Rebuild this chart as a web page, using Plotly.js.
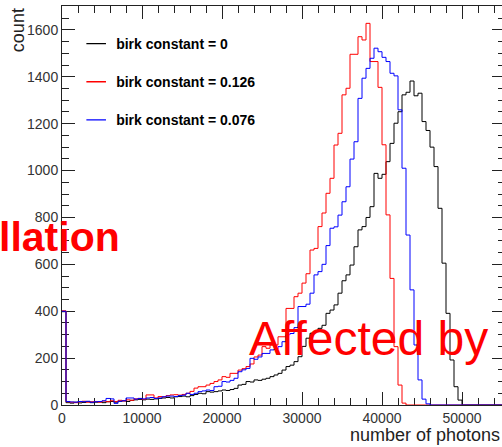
<!DOCTYPE html>
<html>
<head>
<meta charset="utf-8">
<script src="https://cdn.plot.ly/plotly-3.0.1.min.js"></script>
<style>
  html, body { margin: 0; padding: 0; overflow: hidden; background: #fff; }
  #chart { width: 506px; height: 447px; }
</style>
</head>
<body>
<div id="chart"></div>
<script>
// Histogram binning (number of photons)
const binStart = 0;
const binWidth = 500;

// Series labels
const seriesNames = ["birk constant = 0", "birk constant = 0.126", "birk constant = 0.076"];
const seriesColors = ["#000000", "#ff0000", "#0000ff"];

// Counts per bin (bin i covers [i*500, (i+1)*500))
const countsBirk0 = [
  398,
  10, 8, 12, 9, 11, 14, 10, 12, 13, 10,
  14, 15, 12, 16, 18, 15, 20, 22, 24, 22,
  25, 24, 26, 28, 30, 32, 30, 35, 36, 38,
  35, 40, 45, 50, 48, 57, 55, 57, 60, 64,
  62, 66, 71, 85, 88, 100, 98, 107, 105, 110,
  114, 121, 128, 135, 149, 164, 170, 185, 206, 250,
  285, 306, 313, 327, 340, 391, 405, 427, 477, 530,
  555, 597, 675, 747, 761,
  800, 846, 988, 967, 984, 1038, 1116, 1202, 1251, 1323, 1334, 1382,
  1319, 1330, 1209, 1171, 1100, 1017, 839, 605, 391, 192, 78, 21,
  0, 0, 0, 0, 0, 0, 0, 0, 0, 0
];

const countsBirk0126 = [
  402,
  14, 12, 10, 14, 16, 12, 14, 15, 12, 17,
  14, 18, 15, 20, 17, 22, 20, 26, 28, 24,
  43, 43, 30, 36, 35, 40, 43, 44, 42, 45,
  50, 58, 72, 78, 78, 85, 92, 100, 107, 121,
  118, 135, 135, 149, 155, 164, 175, 205, 213, 249,
  242, 256, 256, 291, 291, 412, 412, 462, 477, 520,
  560, 661, 668, 761, 819, 903, 967, 1109, 1159, 1323,
  1351, 1496, 1496, 1571, 1557, 1628, 1465, 1465, 1355, 1110,
  811, 540, 249, 85, 8,
  0, 0, 0, 0, 0, 0, 0, 0, 0, 0, 0, 0,
  0, 0, 0, 0, 0, 0, 0, 0, 0, 0, 0, 0
];

const countsBirk0076 = [
  400,
  15, 13, 12, 15, 14, 16, 12, 14, 15, 18,
  28, 26, 7, 16, 18, 30, 30, 25, 28, 26,
  30, 32, 28, 30, 35, 38, 38, 36, 40, 42,
  50, 45, 50, 57, 60, 64, 62, 78, 80, 100,
  98, 105, 114, 142, 150, 156, 199, 195, 205, 220,
  220, 235, 238, 249, 270, 300, 305, 330, 420, 420,
  430, 477, 555, 569, 600, 680, 754, 760, 810, 867,
  931, 1049, 1123, 1308, 1394, 1436, 1479, 1522, 1507, 1483,
  1465, 1415, 1404, 1259, 1010, 725, 491, 256, 107, 25,
  5,
  0, 0, 0, 0, 0, 0, 0, 0, 0, 0, 0, 0, 0, 0, 0, 0, 0, 0
];

// Tick settings
const xTickStep = 10000;
const yTickStep = 200;

function stepTrace(counts, name, color) {
  const x = [], y = [];
  for (let i = 0; i < counts.length; i++) {
    x.push(binStart + i * binWidth);
    y.push(counts[i]);
  }
  x.push(binStart + counts.length * binWidth);
  y.push(counts[counts.length - 1]);
  return {
    type: "scatter", mode: "lines", x: x, y: y, name: name,
    line: { shape: "hv", color: color, width: 1 },
    showlegend: false, cliponaxis: false, hoverinfo: "skip"
  };
}

function legendTrace(name, color, idx) {
  return {
    type: "scatter", mode: "markers", x: [null], y: [null], name: name,
    legendgroup: "g" + idx,
    marker: { symbol: "line-ew", size: 14, color: color, line: { color: color, width: 1.3 } },
    showlegend: true
  };
}

const allCounts = [countsBirk0, countsBirk0126, countsBirk0076];
const data = [];
for (let s = 0; s < 3; s++) data.push(stepTrace(allCounts[s], seriesNames[s], seriesColors[s]));
for (let s = 0; s < 3; s++) data.push(legendTrace(seriesNames[s], seriesColors[s], s));

const axisCol = "#222222";
const fontFam = "Liberation Sans, Arial, Helvetica, sans-serif";

const layout = {
  width: 506, height: 447,
  margin: { l: 62, r: 1, t: 6, b: 42, pad: 0 },
  paper_bgcolor: "#ffffff", plot_bgcolor: "#ffffff",
  font: { family: fontFam, color: "#222" },
  showlegend: true,
  legend: {
    x: 0.032, y: 0.945, xanchor: "left", yanchor: "top",
    bgcolor: "rgba(0,0,0,0)", borderwidth: 0,
    font: { family: fontFam, size: 14, weight: 700, color: "#000" },
    traceorder: "grouped", tracegroupgap: 17, itemsizing: "trace"
  },
  xaxis: {
    range: [0, 55375], dtick: xTickStep, tick0: 0, tickformat: "d",
    ticks: "inside", ticklen: 13, tickwidth: 1, tickcolor: axisCol,
    minor: { dtick: 2000, ticks: "inside", ticklen: 7, tickwidth: 1, tickcolor: axisCol },
    showline: true, linecolor: axisCol, linewidth: 1, mirror: "ticks",
    showgrid: false, zeroline: false, layer: "below traces",
    tickfont: { family: fontFam, size: 14, color: "#333" }
  },
  yaxis: {
    range: [0, 1702], dtick: yTickStep, tick0: 0, tickformat: "d",
    ticks: "inside", ticklen: 13, tickwidth: 1, tickcolor: axisCol,
    minor: { dtick: 50, ticks: "inside", ticklen: 7, tickwidth: 1, tickcolor: axisCol },
    showline: true, linecolor: axisCol, linewidth: 1, mirror: "ticks",
    showgrid: false, zeroline: false, layer: "below traces",
    tickfont: { family: fontFam, size: 14, color: "#333" }
  },
  annotations: [
    { text: "number of photons", xref: "paper", yref: "paper", x: 1, y: -0.075,
      xanchor: "right", yanchor: "middle", xshift: -3, showarrow: false,
      font: { family: fontFam, size: 18, color: "#222" } },
    { text: "count", xref: "paper", yref: "paper", x: -0.099, y: 1, textangle: -90,
      xanchor: "center", yanchor: "top", showarrow: false,
      font: { family: fontFam, size: 18, color: "#222" } },
    { text: "llation", xref: "paper", yref: "paper", x: 0.1354, y: 0.42,
      xanchor: "right", yanchor: "middle", showarrow: false,
      font: { family: fontFam, size: 41, weight: 700, color: "#ff0000" } },
    { text: "Affected by", xref: "paper", yref: "paper", x: 0.418, y: 0.166,
      xanchor: "left", yanchor: "middle", showarrow: false,
      font: { family: fontFam, size: 48, color: "#ff0000" } }
  ]
};

Plotly.newPlot("chart", data, layout, { staticPlot: true, displayModeBar: false });
</script>
</body>
</html>
